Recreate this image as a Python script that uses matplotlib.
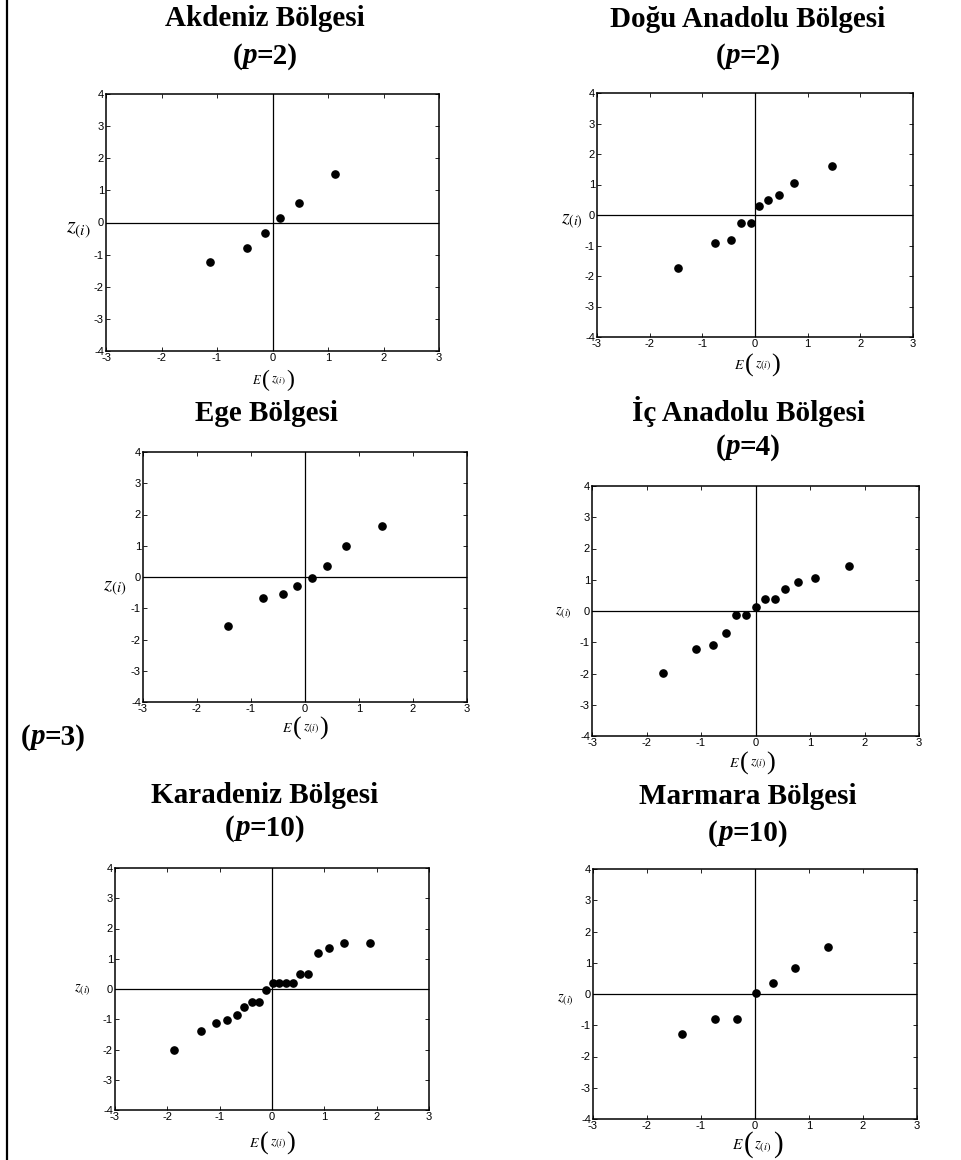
import matplotlib
matplotlib.use('Agg')
import matplotlib.pyplot as plt
from matplotlib.lines import Line2D
from matplotlib.offsetbox import TextArea, HPacker, AnnotationBbox

plt.rcParams['mathtext.fontset'] = 'stix'
plt.rcParams['font.family'] = 'Liberation Sans'
plt.rcParams['axes.unicode_minus'] = False

W, H = 962, 1160

# Bölge verileri: E(z_(i)) ve z_(i)
akdeniz_x = [-1.13, -0.46, -0.13, 0.14, 0.47, 1.13]
akdeniz_y = [-1.24, -0.78, -0.32, 0.13, 0.61, 1.52]

dogu_x = [-1.46, -0.76, -0.45, -0.26, -0.08, 0.08, 0.25, 0.45, 0.74, 1.46]
dogu_y = [-1.73, -0.91, -0.81, -0.25, -0.25, 0.30, 0.49, 0.67, 1.05, 1.61]

ege_x = [-1.43, -0.77, -0.41, -0.14, 0.13, 0.41, 0.75, 1.42]
ege_y = [-1.57, -0.68, -0.54, -0.29, -0.04, 0.34, 0.99, 1.62]

ic_x = [-1.70, -1.09, -0.78, -0.55, -0.35, -0.17, 0.01, 0.18, 0.36, 0.55, 0.78, 1.10, 1.71]
ic_y = [-1.98, -1.22, -1.10, -0.69, -0.14, -0.14, 0.13, 0.40, 0.40, 0.71, 0.93, 1.07, 1.45]

karadeniz_x = [-1.88, -1.35, -1.07, -0.86, -0.67, -0.53, -0.38, -0.25, -0.12, 0.01,
               0.14, 0.26, 0.40, 0.53, 0.69, 0.87, 1.08, 1.38, 1.88]
karadeniz_y = [-2.02, -1.38, -1.11, -1.02, -0.85, -0.58, -0.42, -0.42, -0.04, 0.21,
               0.21, 0.21, 0.21, 0.49, 0.49, 1.20, 1.35, 1.51, 1.51]

marmara_x = [-1.35, -0.74, -0.34, 0.01, 0.34, 0.74, 1.35]
marmara_y = [-1.29, -0.79, -0.79, 0.02, 0.36, 0.84, 1.49]

basliklar = ['Akdeniz Bölgesi', 'Doğu Anadolu Bölgesi', 'Ege Bölgesi',
             'İç Anadolu Bölgesi', 'Karadeniz Bölgesi', 'Marmara Bölgesi']
p_degerleri = [2, 2, 3, 4, 10, 10]
veriler = [(akdeniz_x, akdeniz_y), (dogu_x, dogu_y), (ege_x, ege_y),
           (ic_x, ic_y), (karadeniz_x, karadeniz_y), (marmara_x, marmara_y)]

# yerlesim (piksel): eksen kutusu (sol, ust, sag, alt), baslik, p etiketi, eksen etiketleri
kutular = [(106, 94, 439, 351), (597, 93, 913, 337), (143, 452, 467, 702),
           (592, 486, 919, 736), (115, 868, 429, 1110), (593, 869, 917, 1119)]
baslik_yer = [(265, 26), (748, 27), (266, 421), (748, 421), (265, 803), (748, 804)]
p_yer = [(265, 56), (748, 56), (53, 737), (748, 447), (265, 828), (748, 833)]
ylabel_yer = [(78, 230, 16), (572, 222, 14), (115, 588, 15), (563, 613, 10.5), (82, 990, 10.5), (565, 1000, 10.5)]
xlabel_yer = [(273, 380, 9), (757, 365, 10), (305, 728, 10), (752, 763, 10), (272, 1143, 10), (757, 1145, 11)]

serif = 'Liberation Serif'

fig = plt.figure(figsize=(W / 100, H / 100), dpi=100)


def fx(x):
    return x / W


def fy(y):
    return 1 - y / H


def kutu_koy(kutu, x, y):
    ab = AnnotationBbox(kutu, (fx(x), fy(y)), xycoords='figure fraction',
                        frameon=False, box_alignment=(0.5, 0.5), pad=0)
    fig.add_artist(ab)


def p_etiketi(x, y, n, size=21):
    parca = [TextArea('(', textprops=dict(family=serif, weight='bold', size=size)),
             TextArea('p', textprops=dict(family=serif, weight='bold', style='italic', size=size)),
             TextArea(f'={n})', textprops=dict(family=serif, weight='bold', size=size))]
    kutu_koy(HPacker(children=parca, align='baseline', pad=0, sep=0), x, y)


def x_etiketi(x, y, size):
    parca = [TextArea(r'$E$', textprops=dict(size=size)),
             TextArea('(', textprops=dict(family=serif, size=size * 1.9)),
             TextArea(r'$z_{(i)}$', textprops=dict(size=size)),
             TextArea(')', textprops=dict(family=serif, size=size * 1.9))]
    kutu_koy(HPacker(children=parca, align='center', pad=0, sep=0.5), x, y)


for i in range(6):
    l, t, r, b = kutular[i]
    ax = fig.add_axes([fx(l), fy(b), (r - l) / W, (b - t) / H])
    xs, ys = veriler[i]
    ax.axhline(0, color='black', lw=0.9, zorder=1)
    ax.axvline(0, color='black', lw=0.9, zorder=1)
    ax.plot(xs, ys, 'o', color='black', ms=5.2, zorder=3)
    ax.set_xlim(-3, 3)
    ax.set_ylim(-4, 4)
    ax.set_xticks(range(-3, 4))
    ax.set_yticks(range(-4, 5))
    ax.tick_params(direction='in', length=3, width=0.6, top=True, right=True,
                   labelsize=8, pad=1.5)
    for sp in ax.spines.values():
        sp.set_linewidth(1.1)

    bx, by = baslik_yer[i]
    fig.text(fx(bx), fy(by), basliklar[i], ha='center', va='baseline',
             family=serif, weight='bold', size=21)
    px, py = p_yer[i]
    p_etiketi(px, py, p_degerleri[i])

    yx, yy, ys_ = ylabel_yer[i]
    fig.text(fx(yx), fy(yy), r'$z_{(i)}$', ha='center', va='center', size=ys_)
    xx, xy, xs_ = xlabel_yer[i]
    x_etiketi(xx, xy, xs_)

# sol kenar cizgisi
fig.add_artist(Line2D([fx(7), fx(7)], [0, 1], transform=fig.transFigure, color='black', lw=1.6))

fig.savefig('out.png', dpi=100)
